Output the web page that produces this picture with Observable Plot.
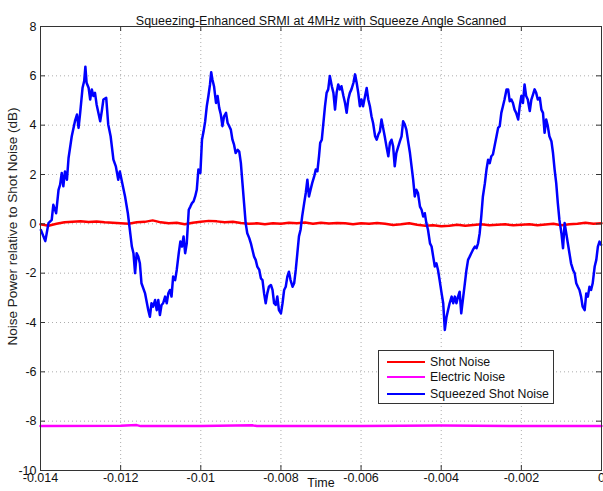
<!DOCTYPE html>
<html><head><meta charset="utf-8">
<script src="https://cdn.jsdelivr.net/npm/d3@7"></script>
<script src="https://cdn.jsdelivr.net/npm/@observablehq/plot@0.6"></script>
<style>
body{margin:0;background:#fff;}
#wrap{position:relative;width:603px;height:491px;overflow:hidden;font-family:"Liberation Sans",Arial,sans-serif;}
#legend{position:absolute;left:378px;top:350px;width:174px;height:52px;border:1px solid #333;background:#fff;font-size:12.3px;color:#111;}
.row{position:absolute;left:0;height:14px;}
.row span.ln{position:absolute;left:8px;top:6px;width:38px;height:2px;}
.row span.tx{position:absolute;left:51px;top:0;white-space:nowrap;line-height:14px;}
</style></head>
<body><div id="wrap"><div id="chart"></div>
<div id="legend">
 <div class="row" style="top:4px"><span class="ln" style="background:#ff0000"></span><span class="tx">Shot Noise</span></div>
 <div class="row" style="top:19px"><span class="ln" style="background:#ff00ff"></span><span class="tx">Electric Noise</span></div>
 <div class="row" style="top:36px"><span class="ln" style="background:#0000ff"></span><span class="tx">Squeezed Shot Noise</span></div>
</div></div>
<script>
const title = "Squeezing-Enhanced SRMI at 4MHz with Squeeze Angle Scanned";
const xLabel = "Time";
const yLabel = "Noise Power relative to Shot Noise (dB)";
const xTicks = [-0.014, -0.012, -0.010, -0.008, -0.006, -0.004, -0.002, 0];
const xTickLabels = ["-0.014", "-0.012", "-0.01", "-0.008", "-0.006", "-0.004", "-0.002", "0"];
const yTicks = [-10, -8, -6, -4, -2, 0, 2, 4, 6, 8];

// [time (ms), dB]
const squeezed = [
[-13.99,-0.25],[-13.88,-0.7],[-13.80,0.03],[-13.72,0.16],[-13.68,0.77],[-13.61,0.43],[-13.55,1.38],[-13.51,1.59],[-13.47,2.06],[-13.43,1.52],[-13.39,2.12],[-13.34,1.79],[-13.30,2.67],[-13.22,3.55],[-13.14,4.16],[-13.09,4.43],[-13.05,3.89],[-13.01,4.5],[-12.95,5.52],[-12.91,5.79],[-12.88,6.37],[-12.85,5.72],[-12.80,5.52],[-12.76,5.04],[-12.72,5.45],[-12.68,5.18],[-12.64,5.31],[-12.60,4.84],[-12.51,4.16],[-12.47,4.57],[-12.43,5.04],[-12.36,5.11],[-12.31,4.03],[-12.25,3.55],[-12.18,2.6],[-12.12,2.33],[-12.06,1.79],[-12.02,2.12],[-11.97,1.73],[-11.89,1.11],[-11.82,0.43],[-11.78,-0.11],[-11.72,-0.92],[-11.68,-1.19],[-11.64,-2.0],[-11.60,-1.19],[-11.56,-1.33],[-11.52,-1.6],[-11.48,-2.41],[-11.39,-2.82],[-11.31,-3.5],[-11.27,-3.77],[-11.23,-3.22],[-11.19,-3.36],[-11.14,-3.09],[-11.10,-3.5],[-11.06,-3.09],[-11.02,-3.7],[-10.98,-3.29],[-10.94,-3.22],[-10.89,-2.95],[-10.85,-3.22],[-10.81,-2.82],[-10.77,-2.68],[-10.73,-2.95],[-10.69,-2.14],
[-10.64,-2.28],[-10.60,-1.87],[-10.55,-1.19],[-10.51,-0.72],[-10.47,-0.92],[-10.43,-0.51],[-10.39,-1.19],[-10.35,-0.79],[-10.30,0.57],[-10.26,0.7],[-10.22,0.84],[-10.18,0.91],[-10.14,1.11],[-10.10,1.38],[-10.06,2.2],[-10.01,2.06],[-9.97,3.41],[-9.93,3.75],[-9.89,4.16],[-9.85,4.77],[-9.81,5.18],[-9.77,5.65],[-9.74,6.15],[-9.71,5.85],[-9.67,5.58],[-9.62,4.9],[-9.58,5.18],[-9.54,4.7],[-9.50,4.43],[-9.46,3.96],[-9.42,4.36],[-9.37,4.5],[-9.33,4.09],[-9.29,3.96],[-9.25,3.82],[-9.21,3.41],[-9.17,3.21],[-9.13,2.87],[-9.08,3.0],[-9.04,2.93],[-9.00,2.47],[-8.96,1.65],[-8.92,0.84],[-8.88,0.03],[-8.84,-0.38],[-8.79,-0.58],[-8.75,-0.79],[-8.71,-1.06],[-8.67,-1.33],[-8.63,-1.46],[-8.59,-1.73],[-8.54,-1.87],[-8.50,-2.21],[-8.46,-2.28],[-8.42,-2.82],[-8.38,-3.22],[-8.34,-2.82],[-8.30,-2.55],[-8.25,-2.48],[-8.21,-2.68],[-8.17,-3.22],[-8.13,-3.29],[-8.09,-2.95],[-8.05,-3.5],[-8.00,-3.63],[-7.96,-3.22],[-7.92,-2.68],[-7.88,-2.55],[-7.84,-2.14],[-7.80,-1.94],[-7.76,-2.28],[-7.71,-2.55],[-7.67,-2.41],[-7.63,-1.87],[-7.59,-1.19],[-7.55,-0.51],[-7.51,-0.24],[-7.47,0.3],[-7.42,0.84],[-7.38,1.25],[-7.34,1.79],[-7.30,1.11],[-7.26,1.38],[-7.22,1.65],[-7.17,1.92],[-7.13,2.2],[-7.09,2.13],[-7.05,2.74],
[-7.02,3.28],[-6.98,3.41],[-6.94,4.09],[-6.90,4.77],[-6.86,5.31],[-6.82,5.45],[-6.78,5.99],[-6.73,5.58],[-6.69,5.31],[-6.65,4.63],[-6.61,5.31],[-6.57,5.65],[-6.53,5.45],[-6.49,5.58],[-6.44,5.18],[-6.40,4.9],[-6.36,4.5],[-6.32,5.04],[-6.28,5.31],[-6.24,5.45],[-6.19,5.72],[-6.15,6.06],[-6.11,5.72],[-6.07,5.31],[-6.03,4.77],[-5.99,5.04],[-5.95,4.77],[-5.90,5.18],[-5.86,5.51],[-5.82,5.04],[-5.78,4.77],[-5.74,4.36],[-5.70,4.09],[-5.65,3.55],[-5.61,3.41],[-5.57,3.62],[-5.53,3.75],[-5.49,4.23],[-5.45,3.89],[-5.41,3.55],[-5.36,3.08],[-5.32,2.74],[-5.28,3.28],[-5.24,3.41],[-5.20,3.14],[-5.16,2.33],[-5.12,2.87],[-5.07,3.14],[-5.03,3.35],[-4.99,3.55],[-4.95,4.16],[-4.91,4.03],[-4.87,3.82],[-4.82,3.28],[-4.78,2.87],[-4.74,2.33],[-4.70,1.79],[-4.66,1.11],[-4.62,1.38],[-4.58,1.25],[-4.53,0.7],[-4.49,0.57],[-4.45,0.3],[-4.41,0.43],[-4.37,0.03],[-4.33,-0.24],[-4.28,-0.79],[-4.24,-0.92],[-4.20,-1.33],[-4.16,-1.73],[-4.12,-1.6],[-4.08,-1.87],[-4.04,-2.28],[-3.99,-2.82],[-3.95,-3.22],[-3.91,-4.3],[-3.87,-3.8],[-3.83,-3.5],[-3.79,-3.22],[-3.74,-2.95],[-3.70,-3.22],[-3.66,-2.95],[-3.62,-3.22],[-3.58,-2.95],
[-3.54,-2.75],[-3.50,-3.63],[-3.45,-2.95],[-3.41,-2.41],[-3.37,-1.87],[-3.33,-1.46],[-3.29,-1.33],[-3.25,-1.19],[-3.21,-1.06],[-3.16,-0.92],[-3.12,-0.99],[-3.08,-0.79],[-3.04,-0.38],[-3.00,0.3],[-2.96,1.11],[-2.91,1.65],[-2.87,2.2],[-2.83,2.6],[-2.79,2.46],[-2.75,2.74],[-2.71,2.81],[-2.67,3.14],[-2.62,3.55],[-2.58,3.89],[-2.54,3.96],[-2.50,4.5],[-2.46,4.77],[-2.42,5.04],[-2.37,5.45],[-2.33,5.45],[-2.29,4.97],[-2.25,5.04],[-2.21,4.9],[-2.17,4.63],[-2.13,4.5],[-2.08,4.23],[-2.04,4.77],[-2.00,5.18],[-1.96,4.9],[-1.92,5.65],[-1.88,5.18],[-1.84,5.04],[-1.79,4.57],[-1.75,5.04],[-1.71,5.24],[-1.67,5.45],[-1.63,5.31],[-1.59,5.04],[-1.54,5.11],[-1.50,4.63],[-1.46,4.5],[-1.42,3.69],[-1.38,4.23],[-1.34,3.96],[-1.30,3.55],[-1.25,3.35],[-1.21,2.87],[-1.17,2.2],[-1.13,1.65],[-1.09,0.84],[-1.05,0.16],[-1.00,-0.38],[-0.96,-0.99],[-0.92,0.03],[-0.88,-0.38],[-0.84,-0.79],[-0.80,-1.19],[-0.76,-1.6],[-0.71,-1.87],[-0.67,-2.0],[-0.63,-2.41],[-0.59,-2.55],[-0.55,-2.68],[-0.51,-2.95],[-0.47,-3.36],[-0.42,-3.5],[-0.38,-2.82],[-0.34,-2.95],[-0.30,-2.55],[-0.26,-2.68],[-0.22,-2.41],[-0.17,-1.73],[-0.13,-1.46],[-0.09,-0.92],[-0.05,-0.72],[-0.01,-0.85]
];

const shot = [
[-14.0,-0.02],[-13.8,-0.08],[-13.6,0.0],[-13.4,0.06],[-13.2,0.08],[-13.0,0.1],[-12.8,0.07],[-12.6,0.09],[-12.4,0.06],[-12.2,0.04],[-12.0,0.02],[-11.8,0.0],[-11.6,0.06],[-11.4,0.08],[-11.2,0.14],[-11.0,0.06],[-10.8,0.02],[-10.6,0.04],[-10.4,-0.02],[-10.2,0.04],[-10.0,0.08],[-9.8,0.12],[-9.6,0.1],[-9.4,0.06],[-9.2,0.08],[-9.0,0.03],[-8.8,0.0],[-8.6,0.02],[-8.4,-0.02],[-8.2,0.02],[-8.0,0.0],[-7.8,0.04],[-7.6,0.02],[-7.4,0.05],[-7.2,0.0],[-7.0,0.04],[-6.8,0.01],[-6.6,0.03],[-6.4,0.02],[-6.2,-0.02],[-6.0,0.02],[-5.8,0.0],[-5.6,0.03],[-5.4,0.0],[-5.2,-0.05],[-5.0,-0.02],[-4.8,0.02],[-4.6,-0.04],[-4.4,-0.08],[-4.2,-0.06],[-4.0,-0.1],[-3.8,-0.08],[-3.6,-0.04],[-3.4,-0.08],[-3.2,-0.05],[-3.0,-0.02],[-2.8,-0.06],[-2.6,-0.04],[-2.4,-0.02],[-2.2,-0.06],[-2.0,-0.04],[-1.8,-0.02],[-1.6,-0.06],[-1.4,-0.03],[-1.2,0.0],[-1.0,-0.06],[-0.8,-0.02],[-0.6,0.0],[-0.4,0.04],[-0.2,0.0],[0.0,0.02]
];

const electric = [
[-14.0,-8.2],[-12.0,-8.19],[-11.6,-8.16],[-11.5,-8.2],[-10.0,-8.2],[-8.7,-8.17],[-8.6,-8.2],[-6.0,-8.2],[-4.0,-8.18],[-2.0,-8.2],[0.0,-8.2]
];

const toRows = arr => arr.map(([t, v]) => ({t: t / 1000, v}));

const W = 603, H = 491, mL = 40, mR = 2, mT = 26, mB = 21;
const innerW = W - mL - mR, innerH = H - mT - mB;
const tick = 5;

const plot = Plot.plot({
  width: W, height: H,
  marginLeft: mL, marginRight: mR, marginTop: mT, marginBottom: mB,
  style: {fontFamily: '"Liberation Sans", Arial, sans-serif', fontSize: "12.5px", background: "white", overflow: "visible", color: "#111"},
  x: {domain: [-0.014, 0], axis: null},
  y: {domain: [-10, 8], axis: null},
  marks: [
    Plot.gridX({ticks: xTicks, stroke: "#999", strokeOpacity: 0.8, strokeDasharray: "1,3"}),
    Plot.gridY({ticks: yTicks, stroke: "#999", strokeOpacity: 0.8, strokeDasharray: "1,3"}),
    Plot.line(toRows(electric), {x: "t", y: "v", stroke: "#ff00ff", strokeWidth: 2.5}),
    Plot.line(toRows(shot), {x: "t", y: "v", stroke: "#ff0000", strokeWidth: 2.5}),
    Plot.line(toRows(squeezed), {x: "t", y: "v", stroke: "#0000ff", strokeWidth: 2.5, strokeLinejoin: "round"}),
    Plot.tickX(xTicks, {x: d => d, insetTop: innerH - tick, stroke: "#333"}),
    Plot.tickX(xTicks, {x: d => d, insetBottom: innerH - tick, stroke: "#333"}),
    Plot.tickY(yTicks, {y: d => d, insetRight: innerW - tick, stroke: "#333"}),
    Plot.tickY(yTicks, {y: d => d, insetLeft: innerW - tick, stroke: "#333"}),
    Plot.frame({stroke: "#333"}),
    Plot.axisX({ticks: xTicks, tickSize: 0, tickPadding: 3, tickFormat: (d, i) => xTickLabels[i], label: null}),
    Plot.axisY({ticks: yTicks, tickSize: 0, tickPadding: 4, tickFormat: d => String(d), label: null}),
    Plot.text([title], {frameAnchor: "top", textAnchor: "middle", dy: -10, fontSize: 12.5, fill: "#111"}),
    Plot.text([xLabel], {frameAnchor: "bottom", textAnchor: "middle", dy: 16, fontSize: 12.5, fill: "#111"}),
    Plot.text([yLabel], {frameAnchor: "left", textAnchor: "middle", dx: -28, dy: -22, rotate: -90, fontSize: 13.5, fill: "#222"})
  ]
});
document.getElementById("chart").appendChild(plot);
</script>
</body></html>
